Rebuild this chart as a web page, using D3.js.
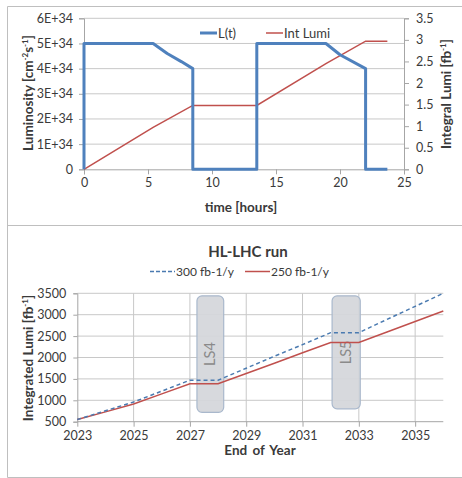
<!DOCTYPE html>
<html>
<head>
<meta charset="utf-8">
<script src="https://cdn.jsdelivr.net/npm/d3@7"></script>
<style>
  body { margin: 0; background: #fff; }
  text { font-family: Lato, "Open Sans", sans-serif; fill: #3a3a3a; }
</style>
</head>
<body>
<script>
// top chart: instantaneous luminosity over one fill (hours)
var lumiTime = [0, 0, 5.4, 6.5, 7.6, 8.5, 8.5, 13.5, 13.5, 18.9, 20, 22, 22, 23.7];
var lumiValue = [0, 5e34, 5e34, 4.6e34, 4.28e34, 4.0e34, 0, 0, 5e34, 5e34, 4.55e34, 4.0e34, 0, 0];
var intTime = [0, 5.4, 8.5, 13.5, 18.9, 22, 23.7];
var intValue = [0, 0.97, 1.48, 1.48, 2.45, 2.97, 2.97];
var leftTicks = [0, 1e34, 2e34, 3e34, 4e34, 5e34, 6e34];
var leftTickLabels = ['0', '1E+34', '2E+34', '3E+34', '4E+34', '5E+34', '6E+34'];
var rightTicks = [0, 0.5, 1, 1.5, 2, 2.5, 3, 3.5];
var timeTicks = [0, 5, 10, 15, 20, 25];

// bottom chart: HL-LHC run
var years = [2023, 2024, 2025, 2026, 2027, 2028, 2029, 2030, 2031, 2032, 2033, 2034, 2035, 2036];
var lumi300 = [550, 755, 960, 1215, 1470, 1470, 1750, 2030, 2300, 2580, 2580, 2890, 3195, 3500];
var lumi250 = [550, 730, 915, 1150, 1385, 1385, 1625, 1865, 2110, 2350, 2350, 2595, 2840, 3085];
var yearTicks = [2023, 2025, 2027, 2029, 2031, 2033, 2035];
var intTicks = [500, 1000, 1500, 2000, 2500, 3000, 3500];
var shutdowns = ['LS4', 'LS5'];
var shutStart = [2027.25, 2032.05];
var shutEnd = [2028.2, 2033.05];
var shutTop = [3440, 3440];
var shutBottom = [720, 800];

var blue = '#4f81bd', red = '#c0504d', grid = '#c8c8c8';

var svg = d3.select('body').append('svg')
  .attr('width', 462)
  .attr('height', 478);

// frame
svg.append('path')
  .attr('d', 'M462,6.5H7.5V477.5H462M7.5,225.5H462')
  .attr('fill', 'none')
  .attr('stroke', '#bfbfbf');

// ---------- top chart ----------
var x1 = d3.scaleLinear().domain([0, 25]).range([84, 404]);
var yL = d3.scaleLinear().domain([0, 6e34]).range([169.3, 18.3]);
var yR = d3.scaleLinear().domain([0, 3.5]).range([169.3, 18.3]);

var topG = svg.append('g');

topG.selectAll('.hgrid')
  .data(leftTicks.slice(1))
  .enter()
  .append('line')
  .attr('x1', x1(0)).attr('x2', x1(25))
  .attr('y1', function(d) { return yL(d); })
  .attr('y2', function(d) { return yL(d); })
  .attr('stroke', grid);

var axL = topG.append('g')
  .attr('transform', 'translate(' + x1(0) + ',0)')
  .call(d3.axisLeft(yL).tickValues(leftTicks).tickSize(5).tickPadding(6)
    .tickFormat(function(d, i) { return leftTickLabels[i]; }));
var axR = topG.append('g')
  .attr('transform', 'translate(' + x1(25) + ',0)')
  .call(d3.axisRight(yR).tickValues(rightTicks).tickSize(5).tickPadding(7)
    .tickFormat(d3.format('')));
var axB = topG.append('g')
  .attr('transform', 'translate(0,' + yL(0) + ')')
  .call(d3.axisBottom(x1).tickValues(timeTicks).tickSize(5).tickPadding(4));

[axL, axR, axB].forEach(function(a) {
  a.selectAll('path, line').attr('stroke', '#a6a6a6');
  a.selectAll('text').attr('font-size', 12.5).attr('fill', '#3a3a3a')
    .style('font-family', 'Lato, sans-serif');
});

var lumiPts = lumiTime.map(function(t, i) { return [t, lumiValue[i]]; });
var intPts = intTime.map(function(t, i) { return [t, intValue[i]]; });

topG.append('path')
  .datum(intPts)
  .attr('d', d3.line().x(function(d) { return x1(d[0]); }).y(function(d) { return yR(d[1]); }))
  .attr('fill', 'none')
  .attr('stroke', red)
  .attr('stroke-width', 1.5);

topG.append('path')
  .datum(lumiPts)
  .attr('d', d3.line().x(function(d) { return x1(d[0]); }).y(function(d) { return yL(d[1]); }))
  .attr('fill', 'none')
  .attr('stroke', blue)
  .attr('stroke-width', 3)
  .attr('stroke-linejoin', 'round');

// legend
topG.append('line').attr('x1', 200).attr('x2', 217).attr('y1', 33).attr('y2', 33)
  .attr('stroke', blue).attr('stroke-width', 3);
topG.append('text').attr('x', 218).attr('y', 37.5).attr('font-size', 13).text('L(t)');
topG.append('line').attr('x1', 266).attr('x2', 283).attr('y1', 33).attr('y2', 33)
  .attr('stroke', red).attr('stroke-width', 1.5);
topG.append('text').attr('x', 284).attr('y', 37.5).attr('font-size', 13).text('Int Lumi');

// axis titles
var lt = topG.append('text')
  .attr('transform', 'translate(33,93) rotate(-90)')
  .attr('text-anchor', 'middle')
  .attr('font-size', 13.5).attr('font-weight', 'bold');
lt.append('tspan').text('Luminosity  [cm');
lt.append('tspan').attr('font-size', 8).attr('dy', -5).text('-2');
lt.append('tspan').attr('dy', 5).text('s');
lt.append('tspan').attr('font-size', 8).attr('dy', -5).text('-1');
lt.append('tspan').attr('dy', 5).text(']');

var rt = topG.append('text')
  .attr('transform', 'translate(451,94) rotate(-90)')
  .attr('text-anchor', 'middle')
  .attr('font-size', 13.5).attr('font-weight', 'bold');
rt.append('tspan').text('Integral Lumi [fb');
rt.append('tspan').attr('font-size', 8).attr('dy', -5).text('-1');
rt.append('tspan').attr('dy', 5).text(']');

topG.append('text')
  .attr('x', 241).attr('y', 211.5)
  .attr('text-anchor', 'middle')
  .attr('font-size', 13.5).attr('font-weight', 'bold')
  .text('time [hours]');

// ---------- bottom chart ----------
var x2 = d3.scaleLinear().domain([2023, 2036]).range([77.3, 443.3]);
var y2 = d3.scaleLinear().domain([500, 3500]).range([421.7, 293.3]);

var bot = svg.append('g');

bot.append('text')
  .attr('x', 248).attr('y', 257)
  .attr('text-anchor', 'middle')
  .attr('font-size', 15).attr('font-weight', 'bold')
  .text('HL-LHC run');

bot.selectAll('.hgrid2')
  .data(intTicks.slice(1))
  .enter()
  .append('line')
  .attr('x1', x2(2023)).attr('x2', x2(2036))
  .attr('y1', function(d) { return y2(d); })
  .attr('y2', function(d) { return y2(d); })
  .attr('stroke', grid);

bot.selectAll('.vgrid2')
  .data(yearTicks.slice(1))
  .enter()
  .append('line')
  .attr('x1', function(d) { return x2(d); })
  .attr('x2', function(d) { return x2(d); })
  .attr('y1', y2(3500)).attr('y2', y2(500))
  .attr('stroke', grid);

var axL2 = bot.append('g')
  .attr('transform', 'translate(' + x2(2023) + ',0)')
  .call(d3.axisLeft(y2).tickValues(intTicks).tickSize(4).tickPadding(7)
    .tickFormat(d3.format('d')));
var axB2 = bot.append('g')
  .attr('transform', 'translate(0,' + y2(500) + ')')
  .call(d3.axisBottom(x2).tickValues(yearTicks).tickSize(5).tickPadding(4)
    .tickFormat(d3.format('d')));
axB2.select('.domain').attr('d', 'M' + x2(2023) + ',0H' + x2(2036));

[axL2, axB2].forEach(function(a) {
  a.selectAll('path, line').attr('stroke', '#a6a6a6');
  a.selectAll('text').attr('font-size', 12.5).attr('fill', '#3a3a3a')
    .style('font-family', 'Lato, sans-serif');
});

// long shutdown boxes
var ls = bot.selectAll('.ls')
  .data(shutdowns)
  .enter()
  .append('g');
ls.append('rect')
  .attr('x', function(d, i) { return x2(shutStart[i]); })
  .attr('y', function(d, i) { return y2(shutTop[i]); })
  .attr('width', function(d, i) { return x2(shutEnd[i]) - x2(shutStart[i]); })
  .attr('height', function(d, i) { return y2(shutBottom[i]) - y2(shutTop[i]); })
  .attr('rx', 5)
  .attr('fill', '#d4d6da')
  .attr('fill-opacity', 0.92)
  .attr('stroke', '#a9b8cc')
  .attr('stroke-width', 1.2);
ls.append('text')
  .attr('transform', function(d, i) {
    var cx = (x2(shutStart[i]) + x2(shutEnd[i])) / 2;
    var cy = (y2(shutTop[i]) + y2(shutBottom[i])) / 2;
    return 'translate(' + (cx + 5) + ',' + cy + ') rotate(-90)';
  })
  .attr('text-anchor', 'middle')
  .attr('font-size', 14.5)
  .style('fill', '#8a8a8a')
  .text(function(d) { return d; });

var line2 = function(vals) {
  return d3.line()
    .x(function(d, i) { return x2(years[i]); })
    .y(function(d) { return y2(d); })(vals);
};

bot.append('path')
  .attr('d', line2(lumi250))
  .attr('fill', 'none')
  .attr('stroke', red)
  .attr('stroke-width', 1.5);

bot.append('path')
  .attr('d', line2(lumi300))
  .attr('fill', 'none')
  .attr('stroke', '#4a7ab0')
  .attr('stroke-width', 1.5)
  .attr('stroke-dasharray', '4,3');

// legend
bot.append('line').attr('x1', 150).attr('x2', 175).attr('y1', 271.5).attr('y2', 271.5)
  .attr('stroke', '#4a7ab0').attr('stroke-width', 1.5).attr('stroke-dasharray', '4,2');
bot.append('text').attr('x', 176).attr('y', 275.5).attr('font-size', 12).text('300 fb-1/y');
bot.append('line').attr('x1', 245).attr('x2', 270).attr('y1', 271.5).attr('y2', 271.5)
  .attr('stroke', red).attr('stroke-width', 1.5);
bot.append('text').attr('x', 271).attr('y', 275.5).attr('font-size', 12).text('250 fb-1/y');

var lt2 = bot.append('text')
  .attr('transform', 'translate(33,358) rotate(-90)')
  .attr('text-anchor', 'middle')
  .attr('font-size', 13.5).attr('font-weight', 'bold');
lt2.append('tspan').text('Integrated Lumi [fb');
lt2.append('tspan').attr('font-size', 8).attr('dy', -5).text('-1');
lt2.append('tspan').attr('dy', 5).text(']');

bot.append('text')
  .attr('x', 260).attr('y', 455)
  .attr('text-anchor', 'middle')
  .attr('font-size', 13.5).attr('font-weight', 'bold')
  .attr('word-spacing', 2)
  .text('End of Year');
</script>
</body>
</html>
